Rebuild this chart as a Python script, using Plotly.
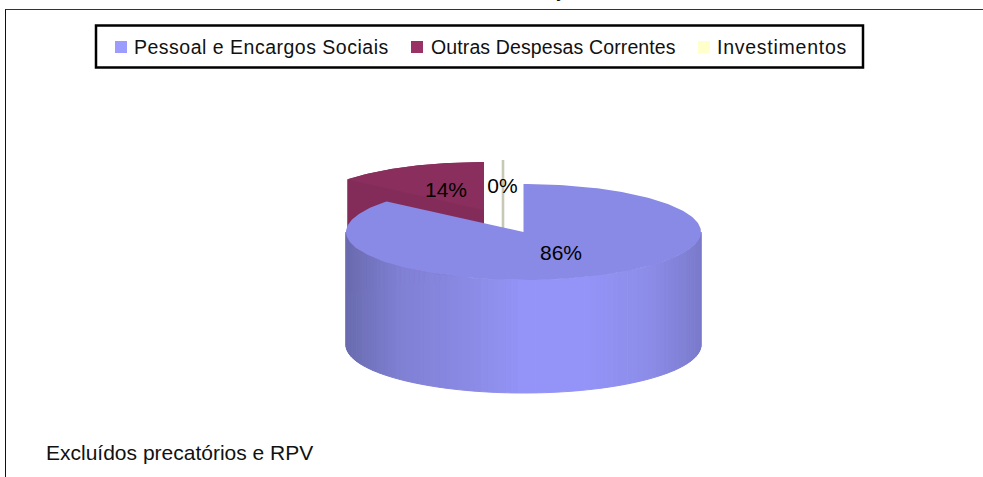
import math
import numpy as np
import plotly.graph_objects as go

categorias = ["Pessoal e Encargos Sociais", "Outras Despesas Correntes", "Investimentos"]
valores = [86, 14, 0]
rotulos = ["86%", "14%", "0%"]
nota = "Excluídos precatórios e RPV"
titulo_cortado = "ç"

W, H = 983, 477
CX, CY, RX, RY, DEPTH = 523.5, 232, 177.5, 48, 113
OFFSETS = [(0, 0), (-39.5, -22), (-20.5, -24)]
TOP = ["#8989e6", "#8a2f5d", "#c8c8b6"]
WALL = ["#9595fa", "#842c59", "#c8c8b6"]
LEGEND = ["#9c9cff", "#993366", "#ffffcc"]
LEG_MARK_X = [121, 417, 704]
LEG_TEXT_X = [132, 429, 715]
LEG_SPACING = [0.5, 0.12, 0.75]
FONT = "Liberation Sans, Arial, sans-serif"

total = sum(valores)
fracs = np.cumsum([0] + valores) / total * 2 * math.pi


def rim(a, off=(0, 0)):
    return CX + off[0] + RX * math.sin(a), CY + off[1] - RY * math.cos(a)


def poly(xs, ys, color, width=0):
    return go.Scatter(x=xs, y=ys, mode="lines", fill="toself", fillcolor=color,
                      line=dict(color=color, width=width), hoverinfo="skip", showlegend=False)


fig = go.Figure()

# Investimentos (zero-value sliver, exploded)
off = OFFSETS[2]
rx0, ry0 = rim(0, off)
fig.add_trace(go.Scatter(x=[rx0, rx0], y=[ry0, CY + off[1] + DEPTH], mode="lines",
                         line=dict(color=TOP[2], width=2.6), hoverinfo="skip", showlegend=False))

# Outras Despesas Correntes (exploded)
off = OFFSETS[1]
a0, a1 = fracs[1], fracs[2]
angs = np.linspace(a0, a1, 60)
pts = [rim(t, off) for t in angs]
ax, ay = CX + off[0], CY + off[1]
wall_x = [p[0] for p in pts] + [pts[-1][0], pts[0][0], pts[0][0]]
wall_y = [p[1] for p in pts] + [pts[-1][1] + DEPTH, pts[0][1] + DEPTH, pts[0][1]]
fig.add_trace(poly(wall_x, wall_y, WALL[1]))
fig.add_trace(poly([ax] + [p[0] for p in pts] + [ax], [ay] + [p[1] for p in pts] + [ay], TOP[1]))

# Pessoal: curved front wall as shaded strips
stops_x = [0, 0.15, 0.37, 0.49, 0.68, 0.86, 1]
stops_c = [(106, 108, 176), (128, 128, 212), (140, 140, 232), (148, 148, 248),
           (148, 148, 248), (140, 140, 232), (122, 122, 204)]


def shade(t):
    return "rgb(%d,%d,%d)" % tuple(np.interp(t, stops_x, [c[i] for c in stops_c]) for i in range(3))


N = 90
front = np.linspace(math.pi / 2, 3 * math.pi / 2, N + 1)
for i in range(N):
    p, q = rim(front[i]), rim(front[i + 1])
    t = ((p[0] + q[0]) / 2 - (CX - RX)) / (2 * RX)
    fig.add_trace(poly([p[0], q[0], q[0], p[0], p[0]],
                       [p[1], q[1], q[1] + DEPTH, p[1] + DEPTH, p[1]], shade(t), width=1))

# Pessoal: top face
angs = np.linspace(fracs[0], fracs[1], 240)
pts = [rim(t) for t in angs]
fig.add_trace(poly([CX] + [p[0] for p in pts] + [CX], [CY] + [p[1] for p in pts] + [CY], TOP[0]))

# Legend swatches
fig.add_trace(go.Scatter(x=LEG_MARK_X, y=[47, 47, 47], mode="markers", hoverinfo="skip", showlegend=False,
                         marker=dict(symbol="square", size=12, color=LEGEND, line=dict(width=0))))

# Percent labels
fig.add_trace(go.Scatter(x=[561, 446, 502.5], y=[255, 192, 188], mode="text", text=rotulos,
                         textposition="middle center", hoverinfo="skip", showlegend=False,
                         textfont=dict(family=FONT, size=21, color="#000000")))

annotations = [
    dict(text=nota, x=44, y=452, xref="x", yref="y", xanchor="left", yanchor="middle", showarrow=False,
         font=dict(family=FONT, size=21, color="#111111")),
    dict(text=titulo_cortado, x=558, y=3, xref="x", yref="y", xanchor="center", yanchor="bottom", showarrow=False,
         font=dict(family=FONT, size=21, color="#111111")),
]
for cat, x, sp in zip(categorias, LEG_TEXT_X, LEG_SPACING):
    annotations.append(dict(text=f'<span style="letter-spacing:{sp}px">{cat}</span>', x=x, y=47,
                            xref="x", yref="y", xanchor="left", yanchor="middle", showarrow=False,
                            font=dict(family=FONT, size=19.5, color="#111111")))

fig.update_layout(
    width=W, height=H, margin=dict(l=0, r=0, t=0, b=0),
    paper_bgcolor="white", plot_bgcolor="white", showlegend=False,
    xaxis=dict(range=[0, W], visible=False, fixedrange=True),
    yaxis=dict(range=[H, 0], visible=False, fixedrange=True),
    shapes=[
        dict(type="line", xref="x", yref="y", x0=5, x1=W, y0=9.5, y1=9.5, line=dict(color="#333333", width=1)),
        dict(type="line", xref="x", yref="y", x0=5.5, x1=5.5, y0=9.5, y1=H, line=dict(color="#111111", width=1)),
        dict(type="rect", xref="x", yref="y", x0=96, x1=863, y0=25.5, y1=67.5, fillcolor="rgba(0,0,0,0)",
             line=dict(color="#000000", width=2.5), layer="below"),
    ],
    annotations=annotations,
)
fig.write_html("out.html", config=dict(displayModeBar=False),
               post_script="document.body.style.margin='0';document.documentElement.style.overflow='hidden';")
